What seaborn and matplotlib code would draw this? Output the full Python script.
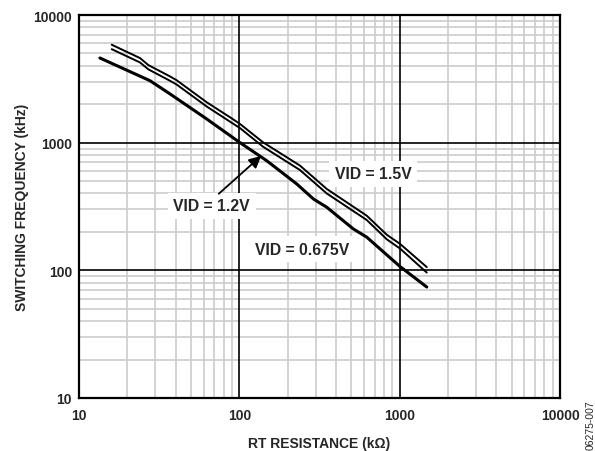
import matplotlib
matplotlib.use("Agg")
import matplotlib.pyplot as plt
import seaborn as sns
import pandas as pd
import numpy as np
from matplotlib.ticker import LogLocator, FixedLocator, NullFormatter

# Data (RT resistance in kOhm, switching frequency in kHz)
rt_15 = [16.0, 24.0, 27.1, 37.0, 40.7, 62.6, 87.5, 101, 140.5, 239, 351, 623, 831, 1006, 1476]
f_15 = [5850, 4600, 4050, 3300, 3080, 2072, 1581, 1401, 1007, 661, 434, 268, 190, 161, 106]

rt_12 = [16.0, 24.0, 27.1, 37.0, 40.7, 62.6, 87.5, 101, 140.5, 239, 351, 623, 831, 1006, 1476]
f_12 = [5400, 4250, 3750, 3050, 2850, 1920, 1460, 1300, 930, 610, 400, 248, 175, 148, 96]

rt_0675 = [13.5, 27.7, 37.0, 62.6, 101, 148, 228, 290, 351, 514, 623, 1006, 1476]
f_0675 = [4605, 3059, 2406, 1533, 1000, 723, 475, 362, 312, 211, 182, 107, 74]

x_ticks = [10, 100, 1000, 10000]
y_ticks = [10, 100, 1000, 10000]
x_label = "RT RESISTANCE (kΩ)"
y_label = "SWITCHING FREQUENCY (kHz)"

sns.set_style("white")
plt.rcParams['font.family'] = ['Liberation Sans', 'DejaVu Sans']

df = pd.concat([
    pd.DataFrame({"rt": rt_15, "f": f_15, "vid": "1.5V"}),
    pd.DataFrame({"rt": rt_12, "f": f_12, "vid": "1.2V"}),
    pd.DataFrame({"rt": rt_0675, "f": f_0675, "vid": "0.675V"}),
])

fig = plt.figure(figsize=(5.95, 4.52), dpi=100)
ax = fig.add_axes([79/595, 1-399/452, (560-79)/595, (399-16)/452])
ax.set_xscale("log")
ax.set_yscale("log")
ax.set_xlim(10, 10000)
ax.set_ylim(10, 10000)

widths = {"1.5V": 1.4, "1.2V": 1.4, "0.675V": 2.2}
for vid, sub in df.groupby("vid", sort=False):
    sns.lineplot(data=sub, x="rt", y="f", ax=ax, color="black",
                 linewidth=widths[vid], estimator=None, sort=False, legend=False,
                 zorder=3)

# grid: minor light grey, major black drawn on top
ax.xaxis.set_major_locator(FixedLocator(x_ticks))
ax.yaxis.set_major_locator(FixedLocator(y_ticks))
ax.xaxis.set_minor_locator(LogLocator(base=10, subs=np.arange(2, 10)))
ax.yaxis.set_minor_locator(LogLocator(base=10, subs=np.arange(2, 10)))
ax.xaxis.set_minor_formatter(NullFormatter())
ax.yaxis.set_minor_formatter(NullFormatter())
ax.grid(which="minor", color="#cccccc", linewidth=1.2)
ax.grid(which="major", visible=False)
for t in x_ticks[1:-1]:
    ax.axvline(t, color="black", linewidth=1.2, zorder=2)
for t in y_ticks[1:-1]:
    ax.axhline(t, color="black", linewidth=1.2, zorder=2)
ax.set_axisbelow(True)
ax.set_xticklabels([str(t) for t in x_ticks])
ax.set_yticklabels([str(t) for t in y_ticks])
ax.tick_params(which="both", length=0, labelsize=10)
ax.tick_params(axis="y", pad=5)
ax.tick_params(axis="x", pad=7)
for lbl in ax.get_xticklabels() + ax.get_yticklabels():
    lbl.set_fontweight("bold")
for s in ax.spines.values():
    s.set_color("black")
    s.set_linewidth(1.6)
    s.set_zorder(4)

ax.set_xlabel(x_label, fontsize=10, fontweight="bold", labelpad=10)
ax.set_ylabel(y_label, fontsize=10, fontweight="bold", labelpad=3)

box = dict(facecolor="white", edgecolor="none", pad=4)
ax.text(685, 572, "VID = 1.5V", ha="center", va="center", fontsize=11.3, fontweight="bold", bbox=box, zorder=5)
ax.text(67.3, 321, "VID = 1.2V", ha="center", va="center", fontsize=11.3, fontweight="bold", bbox=box, zorder=5)
ax.text(248, 146, "VID = 0.675V", ha="center", va="center", fontsize=11.3, fontweight="bold", bbox=box, zorder=5)
ax.annotate("", xy=(141, 815), xytext=(72.3, 385), zorder=6,
            arrowprops=dict(arrowstyle="-|>", color="black", lw=1.3, mutation_scale=18))

fig.text(591/595, 1-400/452, "06275-007", rotation=90, ha="center", va="top", fontsize=7.5)

fig.savefig("out.png", dpi=100)
